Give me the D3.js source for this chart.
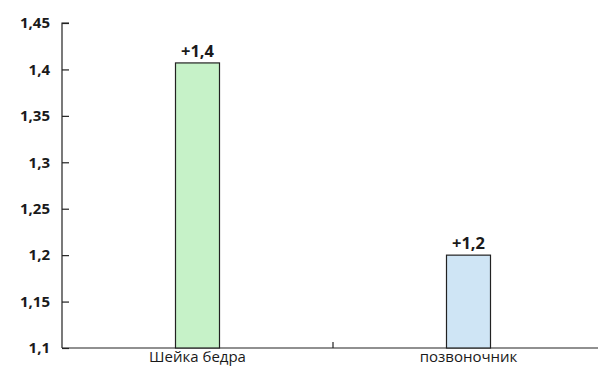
<!DOCTYPE html>
<html>
<head>
<meta charset="utf-8">
<script src="https://cdn.jsdelivr.net/npm/d3@7"></script>
<style>
  body { margin: 0; background: #fff; }
  svg text { font-family: "Open Sans", "Noto Sans", sans-serif; fill: #1a1a1a; }
</style>
</head>
<body>
<svg id="chart"></svg>
<script>
// Data
const categories = ["Шейка бедра", "позвоночник"];
const values = [1.407, 1.2];
const valueLabels = ["+1,4", "+1,2"];
const barColors = ["#c6f2c8", "#cfe5f5"];
const yTicks = [1.1, 1.15, 1.2, 1.25, 1.3, 1.35, 1.4, 1.45];

const width = 598, height = 367;
const margin = { top: 23, right: -6, bottom: 19, left: 62 };
const innerW = width - margin.left - margin.right;
const innerH = height - margin.top - margin.bottom;

const svg = d3.select("#chart")
    .attr("width", width)
    .attr("height", height);

const g = svg.append("g")
    .attr("transform", "translate(" + margin.left + "," + margin.top + ")");

// Scales
const x = d3.scaleBand()
    .domain(categories)
    .range([0, innerW]);

const y = d3.scaleLinear()
    .domain([1.1, 1.45])
    .range([innerH, 0]);

const fmt = d => String(d).replace(".", ",");

// Y axis, ticks pointing inward
const yAxis = g.append("g")
    .call(d3.axisRight(y).tickValues(yTicks).tickSize(7).tickFormat(""));
yAxis.select(".domain").attr("d", "M0," + innerH + "V0H7").attr("stroke", "#222").attr("stroke-width", 1.2);
yAxis.selectAll(".tick line").attr("stroke", "#222").attr("stroke-width", 1.2);

g.selectAll(".ylab")
    .data(yTicks)
    .enter().append("text")
    .attr("class", "ylab")
    .attr("x", -12)
    .attr("y", d => y(d))
    .attr("dy", "0.35em")
    .attr("text-anchor", "end")
    .style("font-size", "15px")
    .style("font-weight", "bold")
    .text(fmt);

// X axis
g.append("line")
    .attr("x1", 0).attr("x2", innerW)
    .attr("y1", innerH).attr("y2", innerH)
    .attr("stroke", "#222").attr("stroke-width", 1.2);

// separator tick between categories
g.append("line")
    .attr("x1", x(categories[1])).attr("x2", x(categories[1]))
    .attr("y1", innerH).attr("y2", innerH - 6)
    .attr("stroke", "#222").attr("stroke-width", 1.2);

g.selectAll(".xlab")
    .data(categories)
    .enter().append("text")
    .attr("class", "xlab")
    .attr("x", d => x(d) + x.bandwidth() / 2)
    .attr("y", innerH + 14)
    .attr("text-anchor", "middle")
    .style("font-size", "15px")
    .text(d => d);

// Bars
const barW = 44;
g.selectAll(".bar")
    .data(values)
    .enter().append("rect")
    .attr("class", "bar")
    .attr("x", (d, i) => x(categories[i]) + x.bandwidth() / 2 - barW / 2)
    .attr("y", d => y(d))
    .attr("width", barW)
    .attr("height", d => innerH - y(d))
    .attr("fill", (d, i) => barColors[i])
    .attr("stroke", "#222")
    .attr("stroke-width", 1.2);

// Value labels
g.selectAll(".vlab")
    .data(values)
    .enter().append("text")
    .attr("class", "vlab")
    .attr("x", (d, i) => x(categories[i]) + x.bandwidth() / 2)
    .attr("y", d => y(d) - 6)
    .attr("text-anchor", "middle")
    .style("font-size", "16.5px")
    .style("font-weight", "bold")
    .text((d, i) => valueLabels[i]);
</script>
</body>
</html>
